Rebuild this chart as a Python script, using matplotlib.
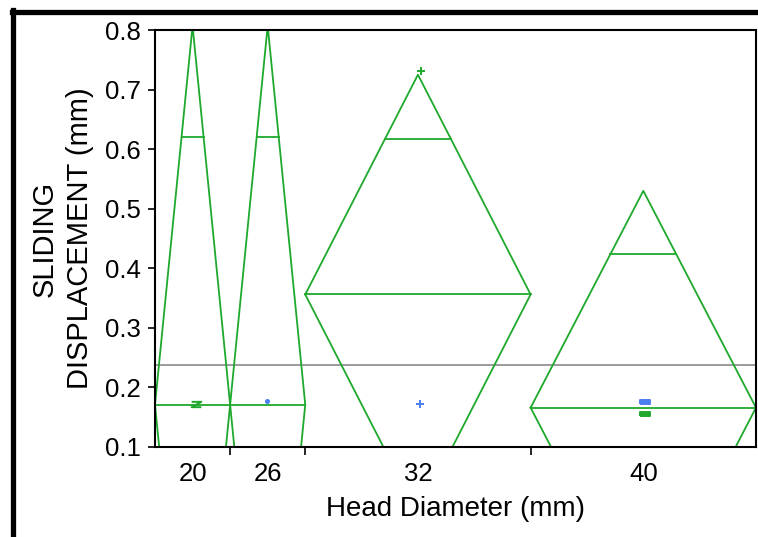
import matplotlib
matplotlib.use("Agg")
import matplotlib.pyplot as plt
from matplotlib.lines import Line2D
import numpy as np

# groupes (diametre de tete) et effectifs -> largeur des losanges
heads = ["20", "26", "32", "40"]
counts = [1, 1, 3, 3]
means = [0.171, 0.171, 0.356, 0.166]
upper95 = [0.807, 0.807, 0.725, 0.530]
grand_mean = 0.237

# points visibles (groupe, decalage dans le groupe, valeur)
pt_group = [0, 1, 2, 2, 3, 3]
pt_jitter = [0.05, -0.01, 0.04, 0.03, 0.02, 0.02]
pt_value = [0.173, 0.177, 0.731, 0.172, 0.1755, 0.155]

green = "#1ea82c"
blue = "#4a7ff0"
pt_color = [green, blue, green, blue, blue, green]
zmark = [(-1, 0.55), (1, 0.55), (-1, -0.55), (1, -0.55)]
rect = [(-1, -0.45), (1, -0.45), (1, 0.45), (-1, 0.45), (-1, -0.45)]
pt_marker = [zmark, "o", "+", "+", rect, rect]
pt_size = [7, 2.2, 6, 6, 6.5, 6.5]
pt_fill = ["none", blue, green, blue, blue, green]

plt.rcParams["font.family"] = ["Liberation Sans", "DejaVu Sans"]

fig = plt.figure(figsize=(7.58, 5.37), dpi=100)
ax = fig.add_axes([155 / 758, 1 - 447 / 537, 601 / 758, 417 / 537])

edges = np.concatenate([[0], np.cumsum(counts)])
centers = (edges[:-1] + edges[1:]) / 2

for i in range(len(heads)):
    x0, x1, xc = edges[i], edges[i + 1], centers[i]
    m = means[i]
    ci = upper95[i] - m
    # losange
    ax.plot([x0, xc, x1, xc, x0], [m, m + ci, m, m - ci, m], color=green, lw=1.3)
    # ligne de la moyenne
    ax.plot([x0, x1], [m, m], color=green, lw=1.3)
    # marques de recouvrement
    half = (x1 - x0) / 2 * (1 - 1 / np.sqrt(2))
    for s in (1, -1):
        ax.plot([xc - half, xc + half], [m + s * ci / np.sqrt(2)] * 2, color=green, lw=1.3)

ax.axhline(grand_mean, color="#8a8a8a", lw=1.2, zorder=1)

for g, j, v, c, mk, sz, fc in zip(pt_group, pt_jitter, pt_value, pt_color, pt_marker, pt_size, pt_fill):
    ax.plot(centers[g] + j, v, marker=mk, color=c, markersize=sz, mfc=fc, mew=1.4, ls="none")

ax.set_xlim(edges[0], edges[-1])
ax.set_ylim(0.1, 0.8)
ax.set_yticks(np.arange(0.1, 0.81, 0.1))
ax.set_yticklabels([f"{t:.1f}" for t in np.arange(0.1, 0.81, 0.1)])
ax.set_xticks(edges[1:-1])
ax.set_xticklabels([])
ax.set_xticks(centers, minor=True)
ax.set_xticklabels(heads, minor=True)
ax.tick_params(axis="y", direction="out", length=5, width=1.2, pad=5, labelsize=18.5)
ax.tick_params(axis="x", which="major", direction="out", length=6, width=1.2)
ax.tick_params(axis="x", which="minor", length=0, pad=11, labelsize=18.5)

for sp in ax.spines.values():
    sp.set_linewidth(1.5)

ax.set_xlabel("Head Diameter (mm)", fontsize=20, labelpad=7)
ax.set_ylabel("SLIDING\nDISPLACEMENT (mm)", fontsize=21, labelpad=8, linespacing=1.35)

# cadre exterieur
fig.add_artist(Line2D([12 / 758, 1], [1 - 12 / 537, 1 - 12 / 537], color="black", lw=3.8,
                      transform=fig.transFigure))
fig.add_artist(Line2D([12.5 / 758, 12.5 / 758], [0, 1 - 10 / 537], color="black", lw=3.8,
                      transform=fig.transFigure))

fig.savefig("out.png", dpi=100)
